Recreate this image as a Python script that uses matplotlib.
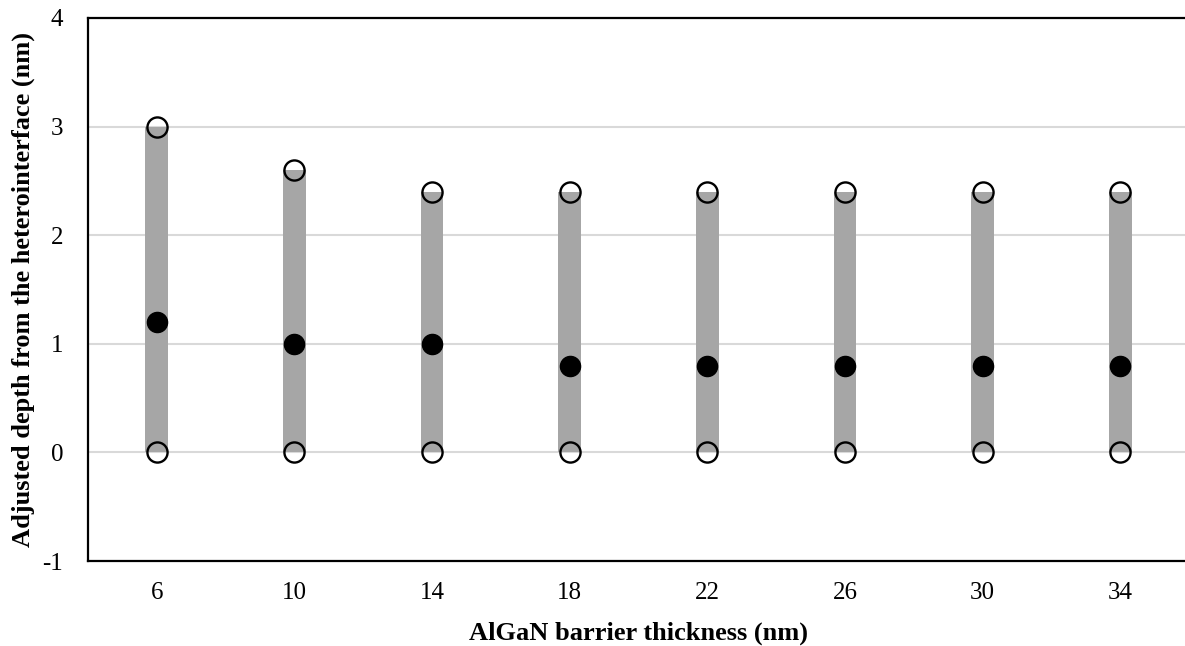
import matplotlib.pyplot as plt
import numpy as np

# AlGaN barrier thickness categories (nm)
thickness = ['6', '10', '14', '18', '22', '26', '30', '34']
# upper end of each range, lower end, and the marked (filled) depth
upper = [3.0, 2.6, 2.4, 2.4, 2.4, 2.4, 2.4, 2.4]
lower = [0, 0, 0, 0, 0, 0, 0, 0]
peak = [1.2, 1.0, 1.0, 0.8, 0.8, 0.8, 0.8, 0.8]

plt.rcParams['font.family'] = ['Liberation Serif', 'DejaVu Serif']
plt.rcParams['axes.unicode_minus'] = False

fig = plt.figure(figsize=(11.85, 6.46), dpi=100)
ax = fig.add_axes([88 / 1185, 85 / 646, 1101 / 1185, 543 / 646])

x = np.arange(len(thickness))

# gray range bars
ax.bar(x, np.array(upper) - np.array(lower), bottom=lower, width=0.165,
       color='#a6a6a6', zorder=2)

# open circles at both ends, filled dot in between
ax.plot(x, upper, 'o', ms=14.5, mfc='none', mec='black', mew=1.7, zorder=3)
ax.plot(x, lower, 'o', ms=14.5, mfc='none', mec='black', mew=1.7, zorder=3)
ax.plot(x, peak, 'o', ms=14.5, mfc='black', mec='black', zorder=3)

ax.set_xlim(-0.5, 7.5)
ax.set_ylim(-1, 4)
ax.set_xticks(x)
ax.set_xticklabels(thickness)
ax.set_yticks([-1, 0, 1, 2, 3, 4])
ax.tick_params(length=0, labelsize=18)
ax.tick_params(axis='y', pad=18)
ax.tick_params(axis='x', pad=15)

ax.yaxis.grid(True, color='#d9d9d9', lw=1.5, zorder=1)
ax.set_axisbelow(True)
for s in ['left', 'top', 'bottom']:
    ax.spines[s].set_linewidth(1.6)
ax.spines['right'].set_visible(False)

ax.set_xlabel('AlGaN barrier thickness (nm)', fontsize=19, fontweight='bold', va='center')
ax.set_ylabel('Adjusted depth from the heterointerface (nm)', fontsize=19,
              fontweight='bold', va='center')
ax.xaxis.set_label_coords(0.5, -0.134)
ax.yaxis.set_label_coords(-0.059, 0.5)

fig.savefig('out.png', dpi=100)
